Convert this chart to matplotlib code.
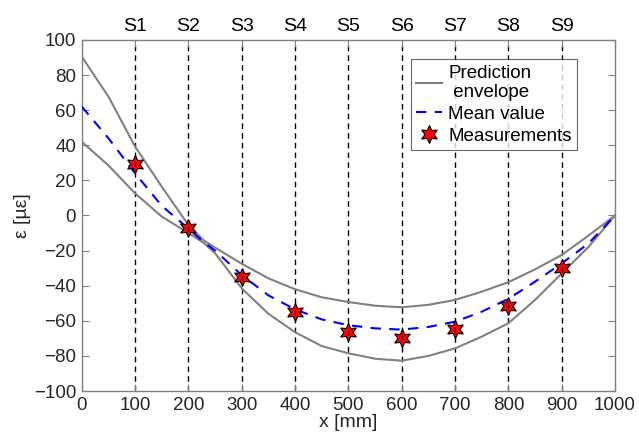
import matplotlib
matplotlib.use("Agg")
import matplotlib.pyplot as plt
import numpy as np

plt.rcParams["font.family"] = ["Liberation Sans", "DejaVu Sans"]

# Prediction envelope and mean curve (x in mm)
x_curve = [0, 50, 100, 150, 200, 228, 250, 300, 350, 400, 450, 500, 550, 600,
           650, 700, 750, 800, 850, 900, 950, 1000]
upper = [90.5, 67.7, 39.2, 16.4, -5.5, -14.0, -18.3, -27.5, -35.8, -42.0, -46.6, -49.3, -51.4, -52.3,
         -50.9, -48.1, -43.4, -38.0, -30.7, -22.5, -11.5, 0.0]
lower = [42.0, 28.5, 12.6, -0.6, -10.0, -15.5, -21.5, -41.5, -56.0, -66.5, -74.4, -78.5, -81.6, -82.7,
         -80.0, -75.7, -69.0, -61.4, -48.1, -33.0, -18.0, 0.0]
mean = [62.0, 44.0, 24.0, 5.5, -7.5, -15.0, -20.0, -34.0, -45.5, -53.5, -59.2, -62.5, -64.3, -65.0,
        -63.5, -60.5, -54.8, -47.5, -37.7, -27.3, -16.0, 0.0]

# Sensor positions and measured strains
sensor_x = [100, 200, 300, 400, 500, 600, 700, 800, 900]
sensor_labels = ["S1", "S2", "S3", "S4", "S5", "S6", "S7", "S8", "S9"]
meas = [29.5, -7.3, -35.2, -55.2, -66.6, -69.7, -64.7, -51.6, -30.1]
meas_err = [1.5] * 9

fig = plt.figure(figsize=(6.39, 4.34), dpi=100)
ax = fig.add_axes([0.128, 0.099, 0.8345, 0.809])

for sx in sensor_x:
    ax.axvline(sx, color="black", linestyle=(0, (4, 3)), linewidth=1.0, zorder=1)

ax.plot(x_curve, upper, color="#808080", linewidth=1.5, label="Prediction\n envelope", zorder=2)
ax.plot(x_curve, lower, color="#808080", linewidth=1.5, zorder=2)
ax.plot(x_curve, mean, color="blue", linestyle=(0, (5, 4)), linewidth=1.5, label="Mean value", zorder=3)
ax.errorbar(sensor_x, meas, yerr=meas_err, fmt="none", ecolor="black", elinewidth=0.8, zorder=5)
ax.plot(sensor_x, meas, linestyle="none", marker=(6, 1, 0), markersize=13,
        markerfacecolor="red", markeredgecolor="black", markeredgewidth=0.8,
        label="Measurements", zorder=4)

ax.set_xlim(0, 1000)
ax.set_ylim(-100, 100)
ax.set_xticks(np.arange(0, 1001, 100))
ax.set_yticks(np.arange(-100, 101, 20))
ax.tick_params(direction="in", length=5, width=0.8, top=True, right=True,
               labelsize=13.5, pad=4)
ax.tick_params(axis="both", colors="#808080", labelcolor="#262626")
for sp in ax.spines.values():
    sp.set_color("#808080")
    sp.set_linewidth(1.0)

ax.set_xlabel("x [mm]", fontsize=14, color="#262626", labelpad=0)
ax.set_ylabel("ε [µε]", fontsize=14, color="#262626", labelpad=2)

for sx, lab in zip(sensor_x, sensor_labels):
    ax.text(sx, 103, lab, ha="center", va="bottom", fontsize=14, color="black")

leg = ax.legend(loc="upper right", bbox_to_anchor=(0.929, 0.946), fontsize=13.5,
                frameon=True, fancybox=False, edgecolor="#404040",
                handlelength=1.4, handletextpad=0.3, borderpad=0.3, labelspacing=0.25,
                borderaxespad=0.0)
leg.get_frame().set_linewidth(0.8)

fig.savefig("out.png", dpi=100)
